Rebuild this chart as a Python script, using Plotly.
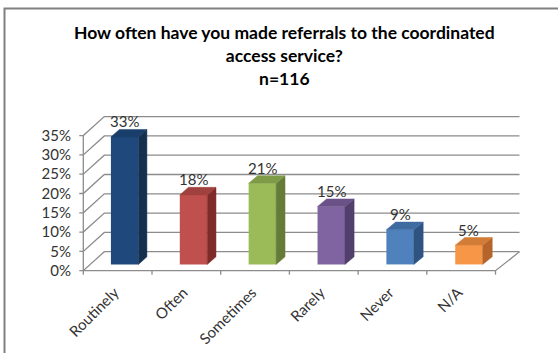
import plotly.graph_objects as go

# ---- data ----
categories = ["Routinely", "Often", "Sometimes", "Rarely", "Never", "N/A"]
percent = [33, 18, 21, 15, 9, 5]
tick_values = [0, 5, 10, 15, 20, 25, 30, 35]
tick_labels = [f"{v}%" for v in tick_values]
value_labels = [f"{v}%" for v in percent]

title_lines = ["How often have you made referrals to the coordinated",
               "access service?", "n=116"]

# ---- styles ----
front_colors = ["#1F497D", "#C0504D", "#9BBB59", "#8064A2", "#4F81BD", "#F79646"]
side_colors = ["#14304F", "#7E2B29", "#657C38", "#523F6C", "#2F5482", "#B5642A"]
top_colors = ["#1A3E6A", "#A0413E", "#7E9C46", "#6A5288", "#3E6BA0", "#D27C37"]
grid_color = "#8C8C8C"
text_color = "#333333"
FONT = "Lato"

# ---- layout geometry (pixels) ----
W, H = 558, 353
ML, MR, MT, MB = 72, 18, 100, 73
plot_w, plot_h = W - ML - MR, H - MT - MB
PX_X = 68.7      # pixels per category slot
PX_Y = 3.86      # pixels per percentage point
FRONT_LEFT_PX = 83.3
FRONT_FLOOR_PX = 270.7

x_lo = -0.5 - (FRONT_LEFT_PX - ML) / PX_X
x_range = [x_lo, x_lo + plot_w / PX_X]
y_lo = -((H - MB) - FRONT_FLOOR_PX) / PX_Y
y_range = [y_lo, y_lo + plot_h / PX_Y]

# oblique depth of the 3-D box (slight perspective: deeper on the right)
DV = 19 / PX_Y
DX_L, DX_R = 21 / PX_X, 24 / PX_X
n = len(categories)
left_edge, right_edge = -0.5, n - 0.5


def depth_dx(u):
    return DX_L + (DX_R - DX_L) * (u - left_edge) / (right_edge - left_edge)


BAR_FRONT = 0.33   # depth fraction where bar front faces sit
BAR_DEPTH = 0.40   # bar depth as fraction of full box depth
BAR_W = 0.40       # bar width in category units

fig = go.Figure()


def add_polyline(points):
    path = "M " + " L ".join(f"{x},{y}" for x, y in points)
    fig.add_shape(type="path", path=path, xref="x", yref="y", layer="below",
                  line=dict(color=grid_color, width=1.3))


# ---- walls, floor, gridlines (drawn beneath the bars) ----
tick_px = 4
for v in tick_values:
    add_polyline([(left_edge - tick_px / PX_X, v), (left_edge, v),
                  (left_edge + DX_L, v + DV), (right_edge + DX_R, v + DV)])
# value axis line
add_polyline([(left_edge, 0), (left_edge, tick_values[-1])])
# front and right edge of the floor
add_polyline([(left_edge, 0), (right_edge, 0), (right_edge + DX_R, DV)])
# category boundary ticks
for k in range(n + 1):
    b = left_edge + k
    add_polyline([(b, 0), (b, -tick_px / PX_Y)])

# ---- bars: front faces ----
bar_base = BAR_FRONT * DV
centers = [i + BAR_FRONT * depth_dx(i) for i in range(n)]
fig.add_trace(go.Bar(x=centers, y=percent, base=[bar_base] * n, width=BAR_W,
                     marker=dict(color=front_colors, line=dict(width=0)),
                     hoverinfo="skip", showlegend=False))

# ---- bars: side and top faces ----
for i, v in enumerate(percent):
    xl = centers[i] - BAR_W / 2
    xr = centers[i] + BAR_W / 2
    ddx = BAR_DEPTH * depth_dx(i)
    ddv = BAR_DEPTH * DV
    top = bar_base + v
    fig.add_trace(go.Scatter(
        x=[xr, xr, xr + ddx, xr + ddx, xr],
        y=[bar_base, top, top + ddv, bar_base + ddv, bar_base],
        fill="toself", fillcolor=side_colors[i], mode="lines",
        line=dict(color=side_colors[i], width=0.5),
        hoverinfo="skip", showlegend=False))
    fig.add_trace(go.Scatter(
        x=[xl, xr, xr + ddx, xl + ddx, xl],
        y=[top, top, top + ddv, top + ddv, top],
        fill="toself", fillcolor=top_colors[i], mode="lines",
        line=dict(color=top_colors[i], width=0.5),
        hoverinfo="skip", showlegend=False))
    fig.add_annotation(x=centers[i], y=top + ddv, text=value_labels[i],
                       showarrow=False, yanchor="middle", yshift=8,
                       font=dict(family=FONT, size=15, color=text_color))

# ---- title ----
fig.add_annotation(xref="paper", yref="paper",
                   x=(284 - ML) / plot_w, y=((H - MB) - 55) / plot_h,
                   text="<b>" + "<br>".join(title_lines) + "</b>",
                   showarrow=False, xanchor="center", yanchor="middle",
                   font=dict(family=FONT, size=17.5, color="#000000"))

# ---- chart border ----
fig.add_shape(type="rect", xref="paper", yref="paper",
              x0=(4.5 - ML) / plot_w, x1=(W + 20 - ML) / plot_w,
              y0=((H - MB) - (H + 20)) / plot_h, y1=((H - MB) - 8.5) / plot_h,
              line=dict(color="#808080", width=2), fillcolor="rgba(0,0,0,0)")

fig.update_layout(
    width=W, height=H,
    margin=dict(l=ML, r=MR, t=MT, b=MB, autoexpand=False),
    paper_bgcolor="white", plot_bgcolor="white",
    showlegend=False,
    xaxis=dict(range=x_range, tickvals=list(range(n)), ticktext=categories,
               tickangle=-45, ticks="", ticklabelshift=-3, showgrid=False,
               zeroline=False, showline=False, fixedrange=True,
               tickfont=dict(family=FONT, size=15, color=text_color)),
    yaxis=dict(range=y_range, tickvals=tick_values, ticktext=tick_labels,
               ticks="", showgrid=False, zeroline=False, showline=False,
               fixedrange=True,
               tickfont=dict(family=FONT, size=15, color=text_color)),
)

fig.write_html("out.html")
